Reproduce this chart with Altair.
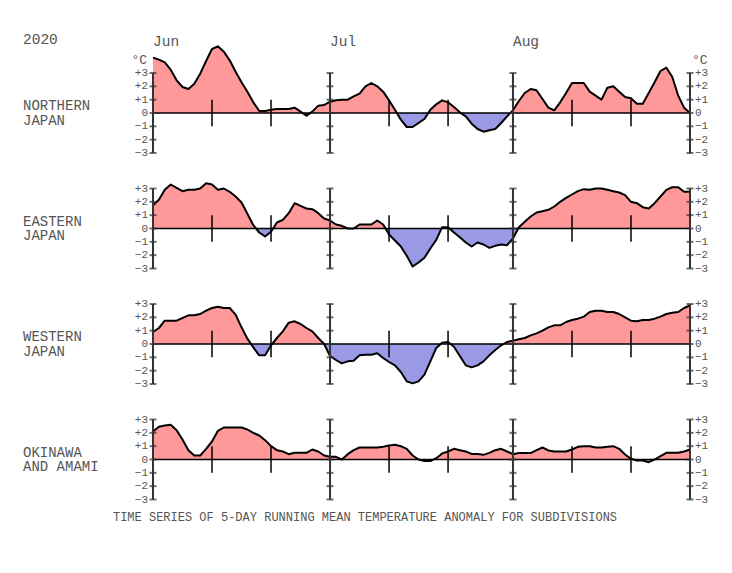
import altair as alt
import pandas as pd

# ---- data (5-day running mean temperature anomaly, degC), Jun 1 - Aug 31 2020 ----
dates = pd.date_range("2020-06-01", "2020-08-31", freq="D")
day_idx = [int((d - dates[0]).days) for d in dates]

northern = [
    4.15, 4.0, 3.8, 3.25, 2.45, 1.95, 1.8, 2.2, 2.95, 3.9, 4.8, 5.0, 4.6, 3.95, 3.1,
    2.3, 1.6, 0.8, 0.15, 0.15, 0.25, 0.3, 0.3, 0.3, 0.4, 0.1, -0.2, 0.1, 0.55, 0.6,
    0.85, 0.95, 1.0, 1.0, 1.25, 1.45, 2.0, 2.25, 2.0, 1.6, 0.95, 0.25, -0.5, -1.05, -1.05,
    -0.75, -0.45, 0.25, 0.65, 0.95, 0.8, 0.45, 0.05, -0.25, -0.8, -1.2, -1.4, -1.3, -1.2, -0.75, -0.25,
    0.2, 0.9, 1.5, 1.8, 1.7, 1.05, 0.4, 0.2, 0.8, 1.5, 2.25, 2.25, 2.25, 1.6, 1.3,
    1.0, 1.9, 2.0, 1.6, 1.2, 1.1, 0.7, 0.7, 1.5, 2.3, 3.15, 3.4, 2.7, 1.3, 0.4, 0.0,
]
eastern = [
    1.75, 2.15, 2.9, 3.3, 3.05, 2.8, 2.9, 2.9, 3.0, 3.4, 3.3, 2.9, 3.0, 2.75, 2.4,
    1.95, 1.1, 0.25, -0.3, -0.6, -0.25, 0.45, 0.65, 1.15, 1.9, 1.7, 1.5, 1.45, 1.15, 0.75,
    0.6, 0.3, 0.2, 0.0, 0.0, 0.3, 0.3, 0.3, 0.6, 0.3, -0.45, -0.9, -1.35, -2.05, -2.85,
    -2.55, -2.2, -1.5, -0.85, 0.1, 0.1, -0.3, -0.65, -1.05, -1.35, -1.05, -1.2, -1.45, -1.3, -1.2, -1.25,
    -0.75, 0.1, 0.5, 0.9, 1.2, 1.3, 1.4, 1.65, 2.0, 2.3, 2.55, 2.8, 2.95, 2.9, 3.0,
    3.0, 2.9, 2.8, 2.7, 2.5, 2.0, 1.9, 1.6, 1.5, 1.9, 2.4, 2.9, 3.1, 3.1, 2.75, 2.75,
]
western = [
    0.9, 1.2, 1.75, 1.75, 1.75, 1.95, 2.15, 2.15, 2.25, 2.5, 2.7, 2.8, 2.7, 2.7, 2.2,
    1.25, 0.4, -0.25, -0.85, -0.85, -0.1, 0.45, 0.95, 1.6, 1.7, 1.5, 1.2, 0.95, 0.45, 0.0,
    -0.9, -1.2, -1.45, -1.3, -1.25, -0.85, -0.8, -0.8, -0.7, -1.05, -1.35, -1.6, -2.1, -2.8, -2.95,
    -2.8, -2.3, -1.3, -0.3, 0.1, 0.15, -0.2, -0.9, -1.6, -1.75, -1.6, -1.3, -0.85, -0.45, -0.1, 0.15,
    0.25, 0.35, 0.45, 0.65, 0.8, 1.0, 1.25, 1.4, 1.4, 1.65, 1.8, 1.9, 2.05, 2.4, 2.5,
    2.5, 2.4, 2.4, 2.25, 2.0, 1.75, 1.7, 1.8, 1.8, 1.9, 2.05, 2.25, 2.35, 2.4, 2.7, 2.9,
]
okinawa = [
    2.1, 2.45, 2.55, 2.6, 2.2, 1.5, 0.7, 0.3, 0.3, 0.8, 1.35, 2.15, 2.4, 2.4, 2.4,
    2.4, 2.25, 2.0, 1.8, 1.45, 1.0, 0.7, 0.6, 0.4, 0.5, 0.5, 0.5, 0.75, 0.6, 0.3,
    0.2, 0.2, 0.0, 0.4, 0.7, 0.9, 0.9, 0.9, 0.9, 0.95, 1.05, 1.1, 1.0, 0.8, 0.3,
    0.0, -0.12, -0.12, 0.1, 0.45, 0.6, 0.8, 0.7, 0.6, 0.42, 0.42, 0.35, 0.5, 0.7, 0.8, 0.6,
    0.4, 0.48, 0.48, 0.48, 0.7, 0.9, 0.68, 0.6, 0.6, 0.6, 0.75, 0.95, 1.0, 1.0, 0.9,
    0.9, 0.95, 1.0, 0.8, 0.38, 0.05, -0.08, -0.08, -0.2, 0.0, 0.25, 0.5, 0.5, 0.5, 0.6, 0.75,
]

regions = ["NORTHERN\nJAPAN", "EASTERN\nJAPAN", "WESTERN\nJAPAN", "OKINAWA\nAND AMAMI"]
series = [northern, eastern, western, okinawa]

tick_values = [3, 2, 1, 0, -1, -2, -3]
tick_labels = ["+3", "+2", "+1", "0", "\u22121", "\u22122", "\u22123"]
month_names = ["Jun", "Jul", "Aug"]
month_starts = ["2020-06-01", "2020-07-01", "2020-08-01"]
minor_days = ["2020-06-11", "2020-06-21", "2020-07-11", "2020-07-21", "2020-08-11", "2020-08-21"]
year_label = "2020"
title_text = "TIME SERIES OF 5-DAY RUNNING MEAN TEMPERATURE ANOMALY FOR SUBDIVISIONS"

# ---- styling ----
FONT = "Liberation Mono"
RED = "#FF9999"
BLUE = "#9999E6"
AX = "#333333"
TXT = "#555555"
W, H = 537, 80


def idx(s):
    return int((pd.Timestamp(s) - dates[0]).days)


last_day = day_idx[-1]
major = [idx(s) for s in month_starts] + [last_day]
minor = [idx(s) for s in minor_days]

xs = alt.Scale(domain=[0, last_day], nice=False, zero=False)
ys = alt.Scale(domain=[-3, 3], nice=False, zero=False)
X = alt.X("day:Q", scale=xs, axis=None)


def Y(f):
    return alt.Y(f, scale=ys, axis=None)


def panel(name, vals, first=False, last=False):
    df = pd.DataFrame({"day": day_idx, "anom": vals, "base": [0.0] * len(vals)})
    top = max(max(vals), 0)
    bot = min(min(vals), 0)
    off = float(top / (top - bot))
    grad = alt.Gradient(
        gradient="linear", x1=0, y1=0, x2=0, y2=1,
        stops=[
            alt.GradientStop(color=RED, offset=0),
            alt.GradientStop(color=RED, offset=off),
            alt.GradientStop(color=BLUE, offset=off),
            alt.GradientStop(color=BLUE, offset=1),
        ],
    )
    base = alt.Chart(df)
    area = base.mark_area(color=grad).encode(x=X, y=Y("anom:Q"), y2="base:Q")
    line = base.mark_line(color="black", strokeWidth=2, strokeJoin="round").encode(
        x=X, y=Y("anom:Q")
    )
    zero = alt.Chart(pd.DataFrame({"day": [0], "day2": [last_day], "v": [0]})).mark_rule(
        color="black", strokeWidth=1.5
    ).encode(x=X, x2="day2:Q", y=Y("v:Q"))

    maj = alt.Chart(pd.DataFrame({"day": major, "lo": [-3] * len(major), "hi": [3] * len(major)})).mark_rule(
        color=AX, strokeWidth=2
    ).encode(x=X, y=Y("lo:Q"), y2="hi:Q")
    tdf = pd.DataFrame([(d, v) for d in major for v in tick_values], columns=["day", "v"])
    ticks = alt.Chart(tdf).mark_tick(
        orient="horizontal", color=AX, size=7, thickness=2
    ).encode(x=X, y=Y("v:Q"))
    mnr = alt.Chart(pd.DataFrame({"day": minor, "lo": [-1] * len(minor), "hi": [1] * len(minor)})).mark_rule(
        color="black", strokeWidth=1.5
    ).encode(x=X, y=Y("lo:Q"), y2="hi:Q")

    ldf = pd.DataFrame({"v": tick_values, "lab": tick_labels,
                        "day": [0] * 7, "dayr": [last_day] * 7})
    left_lab = alt.Chart(ldf).mark_text(
        align="right", baseline="middle", dx=-5, font=FONT, fontSize=11, color=TXT
    ).encode(x=X, y=Y("v:Q"), text="lab:N")
    right_lab = alt.Chart(ldf).mark_text(
        align="left", baseline="middle", dx=5, font=FONT, fontSize=11, color=TXT
    ).encode(x=alt.X("dayr:Q", scale=xs, axis=None), y=Y("v:Q"), text="lab:N")

    name_txt = alt.Chart(pd.DataFrame({"n": [name], "v": [0]})).mark_text(
        align="left", baseline="middle", lineBreak="\n", lineHeight=14.5, dy=-7,
        font=FONT, fontSize=14, color=TXT
    ).encode(x=alt.value(-130), y=Y("v:Q"), text="n:N")

    layers = [area, line, zero, maj, ticks, mnr, left_lab, right_lab, name_txt]

    if first:
        mdf = pd.DataFrame({"day": [idx(s) for s in month_starts], "m": month_names})
        months = alt.Chart(mdf).mark_text(
            align="left", baseline="middle", font=FONT, fontSize=14.5, color=TXT
        ).encode(x=X, y=alt.value(-31), text="m:N")
        year = alt.Chart(pd.DataFrame({"t": [year_label]})).mark_text(
            align="left", baseline="middle", font=FONT, fontSize=14.5, color=TXT
        ).encode(x=alt.value(-130), y=alt.value(-33), text="t:N")
        deg = pd.DataFrame({"t": ["\u00b0C"], "day": [0], "dayr": [last_day]})
        degl = alt.Chart(deg).mark_text(
            align="right", baseline="middle", dx=-6, font=FONT, fontSize=13, color=TXT
        ).encode(x=X, y=alt.value(-13), text="t:N")
        degr = alt.Chart(deg).mark_text(
            align="left", baseline="middle", dx=2, font=FONT, fontSize=13, color=TXT
        ).encode(x=alt.X("dayr:Q", scale=xs, axis=None), y=alt.value(-13), text="t:N")
        layers += [months, year, degl, degr]

    if last:
        ttl = alt.Chart(pd.DataFrame({"t": [title_text]})).mark_text(
            align="center", baseline="middle", font=FONT, fontSize=12, color=TXT
        ).encode(x=alt.value(212), y=alt.value(H + 17), text="t:N")
        layers.append(ttl)

    return alt.layer(*layers).properties(width=W, height=H)


panels = [panel(n, s, first=(i == 0), last=(i == 3))
          for i, (n, s) in enumerate(zip(regions, series))]

chart = alt.vconcat(*panels, spacing=35.5, bounds="flush").properties(
    padding={"left": 23, "top": 32, "right": 10, "bottom": 10},
).configure_view(stroke=None)

chart.save("out.html", embed_options={"renderer": "svg", "actions": False})
